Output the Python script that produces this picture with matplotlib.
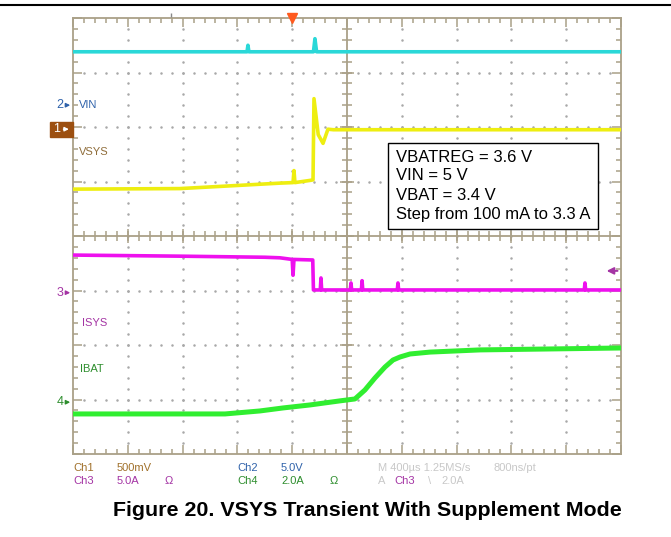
import numpy as np
import matplotlib
matplotlib.use("Agg")
import matplotlib.pyplot as plt
from matplotlib.patches import Rectangle
from matplotlib.lines import Line2D

plt.rcParams['font.family'] = ['Liberation Sans', 'DejaVu Sans']

W, H = 671, 537

# time base: 400 us/div, trigger at 0
t_min, t_max = -1600, 2400
us_per_div = 400

# channel setup: (scale per div, ground marker position in divisions)
ch1_scale, ch1_pos = 0.5, 1.96    # VSYS, V/div
ch2_scale, ch2_pos = 5.0, 2.40    # VIN, V/div
ch3_scale, ch3_pos = 5.0, -1.04   # ISYS, A/div
ch4_scale, ch4_pos = 2.0, -3.05   # IBAT, A/div
trig_level = 2.0                  # Ch3 falling, A

# traces (time in us, value in channel units)
vin_t = [-1600, -330, -323, -316, 155, 166, 178, 2400]
vin_v = [4.9, 4.9, 5.5, 4.9, 4.9, 6.1, 4.9, 4.9]

vsys_t = [-1600, -820, -380, -90, 6, 13, 20, 130, 152, 159, 190, 225, 261, 300, 2400]
vsys_v = [-0.55, -0.545, -0.515, -0.495, -0.49, -0.38, -0.49, -0.47, -0.465, 0.28,
          -0.05, -0.13, 0.0, -0.005, -0.005]

isys_t = [-1600, -820, -200, -90, 0, 6, 13, 150, 155, 205, 210, 215, 424, 429, 434,
          505, 510, 515, 767, 772, 777, 2132, 2137, 2142, 2400]
isys_a = [3.45, 3.35, 3.25, 3.2, 3.05, 1.6, 3.05, 3.0, 0.25, 0.25, 1.35, 0.25, 0.25,
          0.89, 0.25, 0.25, 1.1, 0.25, 0.25, 0.89, 0.25, 0.25, 0.89, 0.25, 0.25]

ibat_t = [-1600, -490, -235, -67, 130, 349, 458, 531, 604, 677, 736, 787, 860, 1006,
          1371, 2400]
ibat_a = [-0.43, -0.43, -0.32, -0.21, -0.10, 0.05, 0.12, 0.45, 0.89, 1.29, 1.55, 1.66,
          1.77, 1.84, 1.92, 1.99]

tan = '#aaa088'
c_cyan, c_yellow, c_mag, c_green = '#2ad8d8', '#eeee10', '#ee10ee', '#30ee30'
c_ch1, c_ch2, c_ch3, c_ch4 = '#a0702a', '#2f62aa', '#a434a4', '#2e8e2e'


def px(x, y):
    return x / W, 1 - y / H


fig = plt.figure(figsize=(W / 100, H / 100), dpi=100)
ax = fig.add_axes([73 / W, 1 - 454 / H, 548 / W, 436 / H])
ax.set_xlim(t_min, t_max)
ax.set_ylim(-4, 4)
ax.set_xticks(np.arange(t_min, t_max + 1, us_per_div))
ax.set_xticks(np.arange(t_min, t_max + 1, us_per_div / 5), minor=True)
ax.set_yticks(np.arange(-4, 5, 1))
ax.set_yticks(np.arange(-4, 4.01, 0.2), minor=True)
ax.tick_params(which='both', direction='in', top=True, right=True,
               labelleft=False, labelbottom=False, color=tan, width=1.1)
ax.tick_params(which='major', length=6.5)
ax.tick_params(which='minor', length=3.5)
for s in ax.spines.values():
    s.set_color(tan)
    s.set_linewidth(1.3)

# dotted graticule
t_mid = (t_min + t_max) / 2
minor_t = np.arange(t_min, t_max + 1, us_per_div / 5)[1:-1]
minor_y = np.arange(-4, 4.01, 0.2)[1:-1]
for gt in np.arange(t_min, t_max + 1, us_per_div)[1:-1]:
    if gt != t_mid:
        ax.plot(np.full_like(minor_y, gt), minor_y, ls='none', marker='.', ms=1.6,
                color='#a8a8a8', zorder=1)
for gy in range(-3, 4):
    if gy != 0:
        ax.plot(minor_t, np.full_like(minor_t, gy), ls='none', marker='.', ms=1.6,
                color='#a8a8a8', zorder=1)

# centre cross with ticks
ax.axvline(t_mid, color=tan, lw=1.3, zorder=1)
ax.axhline(0, color=tan, lw=1.3, zorder=1)
ax.plot(np.full_like(minor_y, t_mid), minor_y, ls='none', marker='_', ms=6.5,
        mew=1.1, color=tan, zorder=1)
ax.plot(np.full(7, t_mid), np.arange(-3, 4), ls='none', marker='_', ms=10,
        mew=1.1, color=tan, zorder=1)
ax.plot(minor_t, np.zeros_like(minor_t), ls='none', marker='|', ms=6.5,
        mew=1.1, color=tan, zorder=1)
ax.plot(np.arange(t_min, t_max + 1, us_per_div)[1:-1], np.zeros(9), ls='none',
        marker='|', ms=10, mew=1.1, color=tan, zorder=1)

# traces
ax.plot(vin_t, ch2_pos + np.array(vin_v) / ch2_scale, color=c_cyan, lw=2.6, zorder=3)
ax.plot(vsys_t, ch1_pos + np.array(vsys_v) / ch1_scale, color=c_yellow, lw=2.6, zorder=3)
ax.plot(isys_t, ch3_pos + np.array(isys_a) / ch3_scale, color=c_mag, lw=2.6, zorder=3)
ax.plot(ibat_t, ch4_pos + np.array(ibat_a) / ch4_scale, color=c_green, lw=3.6, zorder=3)

# trigger position and level markers
ax.plot(0, 4.0, marker='v', color='#ff5a1e', ms=6.5, clip_on=False, zorder=5)
ax.plot(-885, 4.06, marker='|', color='#888888', ms=3, clip_on=False, zorder=5)
ax.annotate('', xy=(2275, ch3_pos + trig_level / ch3_scale),
            xytext=(2395, ch3_pos + trig_level / ch3_scale),
            arrowprops=dict(arrowstyle='-|>', color=c_ch3, lw=1.4, mutation_scale=10))

# channel ground markers at left edge
def ground_marker(num, pos, color):
    ax.text(-1695, pos, num, color=color, fontsize=9, ha='center', va='center')
    ax.annotate('', xy=(t_min, pos), xytext=(-1668, pos), annotation_clip=False,
                arrowprops=dict(arrowstyle='-|>', color=color, lw=1, mutation_scale=6))


ground_marker('2', ch2_pos, c_ch2)
ground_marker('3', ch3_pos, c_ch3)
ground_marker('4', ch4_pos, c_ch4)
ax.add_patch(Rectangle((-1768, ch1_pos - 0.14), 168, 0.28, color='#9c4f10',
                       clip_on=False, zorder=4))
ax.text(-1717, ch1_pos, '1', color='white', fontsize=9, ha='center', va='center', zorder=5)
ax.annotate('', xy=(-1610, ch1_pos), xytext=(-1690, ch1_pos), annotation_clip=False,
            arrowprops=dict(arrowstyle='-|>', color='white', lw=1, mutation_scale=6),
            zorder=5)

# trace labels
ax.text(-1555, ch2_pos, 'VIN', color=c_ch2, fontsize=8, va='center')
ax.text(-1555, (236 - 152) / 54.5, 'VSYS', color='#8f6d3a', fontsize=8, va='center')
ax.text(-1535, (236 - 323) / 54.5, 'ISYS', color=c_ch3, fontsize=8, va='center')
ax.text(-1550, (236 - 369) / 54.5, 'IBAT', color=c_ch4, fontsize=8, va='center')

# conditions box
fig.patches.append(Rectangle(px(388, 229), 210 / W, 86 / H, transform=fig.transFigure,
                             facecolor='white', edgecolor='black', lw=1, zorder=6))
box_lines = ['VBATREG = 3.6 V', 'VIN = 5 V', 'VBAT = 3.4 V', 'Step from 100 mA to 3.3 A']
for i, s in enumerate(box_lines):
    fig.text(*px(396, 157 + 19 * i), s, fontsize=12, va='center', zorder=7)

# scope status lines
status = [
    (73, 468, 'Ch1', c_ch1), (117, 468, '500mV', c_ch1),
    (237, 468, 'Ch2', c_ch2), (281, 468, '5.0V', c_ch2),
    (378, 468, 'M 400\u00b5s 1.25MS/s', '#c8c8c8'), (493, 468, '800ns/pt', '#c8c8c8'),
    (73, 481, 'Ch3', c_ch3), (117, 481, '5.0A', c_ch3), (165, 481, '\u03a9', c_ch3),
    (237, 481, 'Ch4', c_ch4), (281, 481, '2.0A', c_ch4), (330, 481, '\u03a9', c_ch4),
    (378, 481, 'A', '#c8c8c8'), (394, 481, 'Ch3', c_ch3), (428, 481, '\\', '#c8c8c8'),
    (441, 481, '2.0A', '#c8c8c8'),
]
for x, y, s, c in status:
    fig.text(*px(x, y), s, color=c, fontsize=8, va='center')

fig.add_artist(Line2D([0, 1], [1 - 5 / H] * 2, color='black', lw=1.5))
fig.text(*px(113, 511), 'Figure 20. VSYS Transient With Supplement Mode',
         fontsize=15.4, fontweight='bold', va='center')

fig.savefig('out.png', dpi=100)
